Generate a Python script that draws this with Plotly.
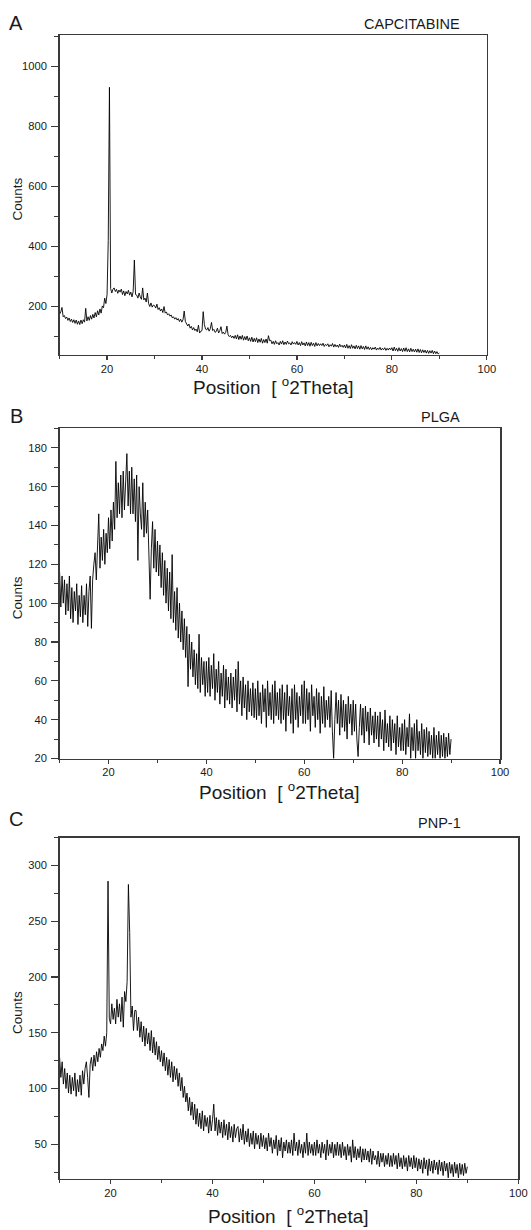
import plotly.graph_objects as go

# ---------------- data (counts sampled every 0.25 deg 2Theta, 10..90) ----------------
x_start = 10.0
x_step = 0.25

capcitabine = [
    175, 182, 197, 166, 170, 160, 165, 154, 162, 150, 158, 147, 156, 144, 155, 141, 152, 140, 155, 143,
    156, 148, 194, 152, 166, 154, 170, 158, 174, 162, 180, 166, 186, 172, 192, 178, 202, 196, 228, 210,
    240, 420, 930, 260, 245, 258, 262, 250, 257, 244, 255, 248, 258, 240, 252, 236, 250, 242, 254, 238,
    248, 232, 250, 355, 240, 238, 228, 245, 232, 224, 262, 222, 228, 215, 245, 210, 200, 212, 198, 205,
    203, 195, 208, 190, 196, 185, 192, 180, 200, 178, 182, 172, 176, 168, 172, 162, 166, 158, 163, 155,
    160, 150, 158, 148, 156, 185, 150, 140, 135, 142, 128, 134, 122, 130, 120, 125, 116, 138, 112, 118,
    120, 183, 140, 125, 122, 130, 118, 126, 147, 120, 124, 114, 117, 128, 112, 120, 133, 110, 115, 108,
    114, 135, 106, 100, 104, 96, 102, 94, 104, 92, 106, 90, 102, 91, 104, 88, 100, 89, 102, 86,
    96, 84, 98, 82, 94, 83, 96, 80, 92, 81, 94, 78, 90, 80, 92, 78, 103, 86, 88, 76,
    84, 74, 86, 76, 80, 72, 84, 75, 86, 73, 82, 74, 85, 76, 79, 72, 83, 75, 80, 74,
    84, 72, 80, 70, 83, 72, 79, 69, 82, 70, 80, 68, 81, 70, 78, 67, 80, 69, 77, 70,
    76, 70, 78, 67, 74, 70, 76, 66, 73, 68, 77, 65, 74, 66, 72, 64, 75, 66, 71, 64,
    72, 62, 74, 61, 70, 60, 73, 61, 69, 59, 71, 60, 69, 58, 70, 59, 67, 57, 69, 58,
    66, 57, 64, 56, 63, 58, 65, 55, 62, 57, 64, 55, 61, 56, 63, 54, 61, 55, 62, 56,
    63, 52, 65, 53, 61, 51, 63, 52, 60, 50, 62, 51, 63, 50, 59, 49, 61, 50, 58, 49,
    58, 48, 59, 47, 57, 46, 56, 47, 55, 45, 54, 44, 53, 45, 54, 43, 52, 43, 50, 42,
    45,
]

plga = [
    116, 98, 114, 100, 112, 94, 110, 96, 114, 92, 108, 90, 106, 96, 110, 89, 104, 93, 109, 90,
    104, 94, 110, 88, 106, 114, 87, 112, 120, 126, 112, 130, 146, 118, 134, 122, 138, 120, 136, 126,
    144, 128, 148, 132, 152, 138, 173, 144, 162, 146, 166, 144, 168, 148, 164, 177, 150, 168, 146, 170,
    146, 164, 142, 166, 122, 160, 146, 138, 162, 134, 152, 136, 148, 126, 102, 128, 142, 118, 138, 116,
    132, 114, 130, 108, 126, 104, 122, 100, 118, 96, 116, 92, 125, 90, 106, 86, 108, 82, 100, 80,
    96, 76, 92, 72, 88, 57, 84, 66, 80, 62, 76, 58, 74, 56, 84, 54, 72, 58, 70, 52,
    70, 54, 72, 52, 68, 56, 74, 50, 66, 54, 70, 48, 64, 52, 68, 46, 66, 50, 62, 48,
    64, 46, 62, 50, 66, 44, 70, 48, 60, 42, 62, 46, 58, 40, 60, 44, 56, 42, 59, 41,
    56, 40, 60, 42, 54, 38, 58, 44, 56, 36, 60, 42, 54, 40, 58, 38, 60, 42, 54, 40,
    56, 38, 58, 40, 54, 34, 58, 42, 52, 38, 56, 33, 58, 40, 54, 36, 52, 42, 58, 38,
    60, 38, 56, 40, 54, 34, 58, 42, 52, 36, 56, 40, 54, 33, 52, 38, 57, 36, 50, 40,
    52, 36, 55, 34, 20, 40, 54, 38, 50, 32, 53, 36, 50, 34, 48, 30, 52, 38, 48, 32,
    50, 34, 48, 30, 21, 36, 48, 32, 46, 28, 47, 34, 44, 27, 46, 32, 42, 28, 44, 30,
    42, 26, 44, 30, 40, 24, 45, 28, 38, 26, 42, 24, 40, 28, 38, 22, 42, 26, 36, 24,
    38, 24, 40, 22, 36, 26, 43, 20, 36, 24, 38, 20, 40, 24, 34, 22, 38, 20, 35, 23,
    36, 21, 34, 22, 32, 20, 36, 20, 32, 22, 34, 20, 32, 21, 33, 20, 31, 21, 33, 22,
    30,
]

pnp1 = [
    128, 110, 124, 104, 118, 100, 114, 96, 112, 95, 110, 98, 114, 93, 108, 97, 112, 94, 116, 104,
    118, 124, 110, 92, 122, 128, 116, 130, 120, 133, 124, 136, 128, 140, 134, 147, 138, 150, 286, 163,
    158, 176, 162, 172, 158, 180, 164, 176, 160, 182, 155, 187, 178, 196, 283, 240, 164, 174, 152, 170,
    170, 152, 164, 146, 160, 142, 156, 138, 154, 140, 150, 134, 152, 132, 146, 130, 142, 126, 138, 124,
    134, 120, 132, 116, 128, 112, 126, 110, 124, 106, 120, 108, 118, 102, 114, 98, 110, 92, 102, 88,
    96, 80, 92, 76, 88, 72, 86, 68, 82, 66, 78, 64, 80, 62, 76, 66, 74, 60, 76, 62,
    72, 86, 62, 74, 58, 72, 60, 70, 56, 72, 58, 68, 54, 70, 56, 66, 52, 68, 56, 64,
    66, 52, 64, 54, 68, 50, 62, 52, 64, 48, 60, 50, 62, 46, 60, 50, 58, 46, 60, 48,
    58, 46, 56, 44, 60, 48, 56, 42, 54, 46, 58, 40, 54, 44, 56, 38, 52, 44, 54, 42,
    52, 42, 54, 40, 60, 44, 52, 40, 54, 42, 50, 38, 52, 42, 60, 40, 52, 42, 50, 40,
    52, 40, 54, 42, 50, 38, 52, 42, 50, 36, 54, 40, 50, 42, 52, 38, 50, 40, 52, 40,
    50, 38, 52, 40, 48, 36, 50, 40, 48, 34, 54, 38, 48, 36, 46, 38, 48, 34, 46, 36,
    46, 36, 44, 34, 46, 32, 44, 36, 40, 32, 44, 30, 42, 34, 42, 30, 40, 32, 42, 30,
    40, 30, 42, 32, 40, 28, 42, 30, 38, 28, 40, 30, 38, 26, 40, 30, 38, 28, 40, 29,
    38, 26, 37, 28, 36, 24, 38, 28, 36, 22, 37, 26, 35, 24, 36, 27, 34, 23, 36, 26,
    34, 22, 35, 26, 33, 20, 34, 24, 32, 21, 34, 24, 32, 20, 33, 23, 32, 22, 33, 24,
    30,
]

panel_letters = ["A", "B", "C"]
sample_names = ["CAPCITABINE", "PLGA", "PNP-1"]
x_title = "Position\u00a0\u00a0[\u00a0<sup>o</sup>2Theta]"
y_title = "Counts"

# ---------------- layout geometry (pixels) ----------------
W, H = 531, 1230
FONT = "Liberation Sans, Arial, sans-serif"
AXC = "#3a3a3a"
TXT = "#1a1a1a"


def fx(px):
    return px / W


def fy(py):
    return 1 - py / H


panels = [
    dict(series=capcitabine, l=59.6, r=486.8, t=35, b=354.6, yr=[40, 1104], ydt=200, ymin=100,
         letter_y=23, name_x=462, name_y=24, title_y=386),
    dict(series=plga, l=59.6, r=500, t=428.4, b=758.5, yr=[20, 190], ydt=20, ymin=10,
         letter_y=415.6, name_x=462.4, name_y=416.6, title_y=790.5),
    dict(series=pnp1, l=59.6, r=518.3, t=837.6, b=1178.9, yr=[19, 325], ydt=50, ymin=25,
         letter_y=819, name_x=463, name_y=823, title_y=1214.5),
]

fig = go.Figure()
annotations = []
layout = dict(
    template="none",
    width=W, height=H,
    margin=dict(l=0, r=0, t=0, b=0),
    paper_bgcolor="white", plot_bgcolor="white",
    showlegend=False,
    font=dict(family=FONT, color=TXT),
)

for i, p in enumerate(panels):
    n = "" if i == 0 else str(i + 1)
    xa, ya = "x" + n, "y" + n
    fig.add_trace(go.Scatter(
        x0=x_start, dx=x_step, y=p["series"], mode="lines",
        line=dict(color="black", width=0.9), xaxis=xa, yaxis=ya,
        hoverinfo="skip",
    ))
    common = dict(showline=True, linecolor=AXC, linewidth=1.5, mirror=True,
                  ticks="outside", tickcolor=AXC, tickwidth=1.2,
                  showgrid=False, zeroline=False, ticklabeloverflow="allow",
                  tickfont=dict(family=FONT, size=11.2, color=TXT))
    layout["xaxis" + n] = dict(
        common, domain=[fx(p["l"]), fx(p["r"])], range=[10, 100],
        tick0=0, dtick=20, anchor=ya, ticklen=4, ticklabelstandoff=-1,
        minor=dict(ticks="outside", ticklen=2.5, tickcolor=AXC, tickwidth=1, dtick=10, tick0=0),
    )
    layout["yaxis" + n] = dict(
        common, domain=[fy(p["b"]), fy(p["t"])], range=p["yr"],
        tick0=0, dtick=p["ydt"], anchor=xa, ticklen=7, ticklabelstandoff=2,
        minor=dict(ticks="outside", ticklen=4, tickcolor=AXC, tickwidth=1, dtick=p["ymin"], tick0=0),
    )
    annotations += [
        dict(text=panel_letters[i], x=fx(16), y=fy(p["letter_y"]), xref="paper", yref="paper",
             xanchor="center", yanchor="middle", showarrow=False,
             font=dict(family=FONT, size=20, color=TXT)),
        dict(text=sample_names[i], x=fx(p["name_x"]), y=fy(p["name_y"]), xref="paper", yref="paper",
             xanchor="right", yanchor="middle", showarrow=False,
             font=dict(family=FONT, size=14.5, color=TXT)),
        dict(text=x_title, x=fx((p["l"] + p["r"]) / 2), y=fy(p["title_y"]), xref="paper", yref="paper",
             xanchor="center", yanchor="middle", showarrow=False,
             font=dict(family=FONT, size=19, color=TXT)),
        dict(text=y_title, x=fx(17.7), y=fy((p["t"] + p["b"]) / 2 + 4), xref="paper", yref="paper",
             xanchor="center", yanchor="middle", showarrow=False, textangle=-90,
             font=dict(family=FONT, size=13.5, color=TXT)),
    ]

layout["annotations"] = annotations
fig.update_layout(**layout)
fig.write_html(
    "out.html",
    config={"displayModeBar": False, "staticPlot": True},
    post_script="document.body.style.margin='0';document.body.style.padding='0';",
)
